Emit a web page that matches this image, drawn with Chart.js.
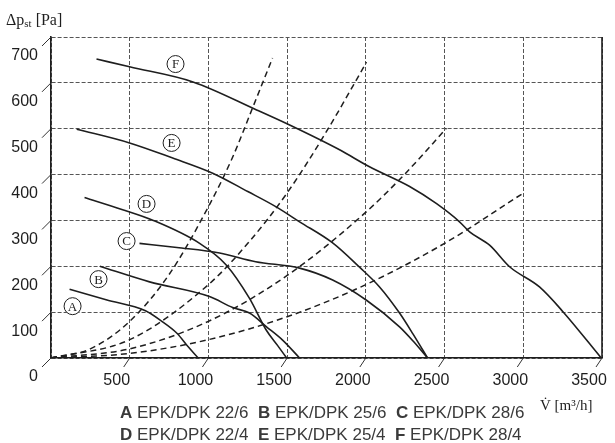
<!DOCTYPE html>
<html>
<head>
<meta charset="utf-8">
<script src="https://cdn.jsdelivr.net/npm/chart.js@4/dist/chart.umd.min.js"></script>
<style>
  body { margin: 0; background: #fff; }
  canvas { display: block; }
</style>
</head>
<body>
<canvas id="fan-chart" width="615" height="443"></canvas>
<script>
"use strict";

// fan curves, flow in m3/h and static pressure in Pa
let curveAFlow = [118, 350, 600, 700, 800, 870, 935];
let curveAPress = [150, 127, 103, 81, 54, 25, 0];
let curveBFlow = [310, 626, 1007, 1154, 1261, 1369, 1471, 1579];
let curveBPress = [200, 166, 134, 110, 98, 68, 39, 0];
let curveCFlow = [562, 800, 1071, 1300, 1579, 1789, 2004, 2214, 2300, 2392];
let curveCPress = [250, 241, 229, 210, 196, 170, 126, 68, 37, 0];
let curveDFlow = [213, 450, 650, 944, 1113, 1261, 1367, 1440, 1497];
let curveDPress = [350, 324, 300, 250, 203, 130, 61, 27, 0];
let curveEFlow = [163, 499, 773, 1027, 1250, 1433, 1579, 1789, 1960, 2087, 2214, 2300, 2392];
let curveEPress = [499, 469, 436, 403, 363, 329, 297, 251, 198, 155, 98, 52, 0];
let curveFFlow = [289, 499, 902, 1306, 1516, 1833, 2023, 2278, 2447, 2595, 2659, 2786, 2913, 3103, 3252, 3495];
let curveFPress = [652, 635, 602, 541, 508, 454, 417, 374, 337, 297, 275, 246, 199, 155, 101, 0];

// system curves (dashed)
let sys1Flow = [0, 250, 500, 750, 1000, 1150, 1280, 1407];
let sys1Press = [0, 20, 80, 182, 330, 435, 545, 654];
let sys2Flow = [0, 500, 1000, 1250, 1500, 1750, 2004];
let sys2Press = [0, 40, 160, 250, 360, 494, 645];
let sys3Flow = [0, 500, 1000, 1500, 2000, 2250, 2512];
let sys3Press = [0, 20, 80, 180, 318, 402, 501];
let sys4Flow = [0, 500, 1000, 1500, 2000, 2500, 3002];
let sys4Press = [0, 10, 40, 90, 160, 250, 360];

// circled letters on the curves
let markLetters = ["A", "B", "C", "D", "E", "F"];
let markFlow = [137, 302, 480, 607, 766, 791];
let markPress = [113, 172, 255, 336, 469, 641];

let xTicks = [0, 500, 1000, 1500, 2000, 2500, 3000, 3500];
let yTicks = [0, 100, 200, 300, 400, 500, 600, 700];

let legendRow1 = [["A", "EPK/DPK 22/6"], ["B", "EPK/DPK 25/6"], ["C", "EPK/DPK 28/6"]];
let legendRow2 = [["D", "EPK/DPK 22/4"], ["E", "EPK/DPK 25/4"], ["F", "EPK/DPK 28/4"]];

let ink = "#1e1e1e";

function toPoints(flow, press) {
  let pts = [];
  for (let i = 0; i < flow.length; i++) {
    pts.push({ x: flow[i], y: press[i] });
  }
  return pts;
}

function fanSet(flow, press) {
  return {
    data: toPoints(flow, press),
    showLine: true,
    borderColor: ink,
    borderWidth: 1.6,
    pointRadius: 0,
    cubicInterpolationMode: "monotone",
  };
}

function sysSet(flow, press) {
  let set = fanSet(flow, press);
  set.borderDash = [6, 4];
  set.borderWidth = 1.5;
  return set;
}

function drawLegendRow(ctx, row, x, y) {
  for (let item of row) {
    ctx.font = "bold 17px 'Liberation Sans', Arial, sans-serif";
    ctx.fillText(item[0], x, y);
    x += ctx.measureText(item[0] + " ").width;
    ctx.font = "17px 'Liberation Sans', Arial, sans-serif";
    ctx.fillText(item[1], x, y);
    x += ctx.measureText(item[1] + "  ").width;
  }
}

let extrasPlugin = {
  id: "extras",
  afterDraw(chart) {
    let ctx = chart.ctx;
    let xs = chart.scales.x;
    let ys = chart.scales.y;
    let area = chart.chartArea;
    ctx.save();

    // slanted ticks between labels and grid
    ctx.strokeStyle = "#333";
    ctx.lineWidth = 1;
    for (let v of yTicks) {
      let py = ys.getPixelForValue(v);
      ctx.beginPath();
      ctx.moveTo(area.left - 9, py + 9);
      ctx.lineTo(area.left, py);
      ctx.stroke();
    }
    for (let v of xTicks) {
      if (v === 0) continue;
      let px = xs.getPixelForValue(v);
      ctx.beginPath();
      ctx.moveTo(px - 6, area.bottom + 9);
      ctx.lineTo(px, area.bottom);
      ctx.stroke();
    }

    // solid right frame
    ctx.strokeStyle = ink;
    ctx.lineWidth = 1.6;
    ctx.beginPath();
    ctx.moveTo(area.right, area.top);
    ctx.lineTo(area.right, area.bottom);
    ctx.stroke();

    // circled letters
    ctx.lineWidth = 1;
    ctx.textAlign = "center";
    ctx.textBaseline = "middle";
    ctx.font = "13px 'Liberation Serif', serif";
    for (let i = 0; i < markLetters.length; i++) {
      let cx = xs.getPixelForValue(markFlow[i]);
      let cy = ys.getPixelForValue(markPress[i]);
      ctx.fillStyle = "#fff";
      ctx.beginPath();
      ctx.arc(cx, cy, 8.5, 0, Math.PI * 2);
      ctx.fill();
      ctx.stroke();
      ctx.fillStyle = ink;
      ctx.fillText(markLetters[i], cx, cy + 1);
    }

    // axis titles
    ctx.textAlign = "left";
    ctx.textBaseline = "alphabetic";
    ctx.fillStyle = ink;
    ctx.font = "16px 'Liberation Serif', serif";
    ctx.fillText("\u0394p", 6, 25);
    let w = ctx.measureText("\u0394p").width;
    ctx.font = "11px 'Liberation Serif', serif";
    ctx.fillText("st", 6 + w, 27);
    let w2 = ctx.measureText("st").width;
    ctx.font = "16px 'Liberation Serif', serif";
    ctx.fillText(" [Pa]", 6 + w + w2, 25);

    ctx.font = "15px 'Liberation Serif', serif";
    ctx.fillText("V\u0307 [m\u00b3/h]", 540, 410);

    // legend rows
    ctx.fillStyle = "#3a3a3a";
    drawLegendRow(ctx, legendRow1, 120, 418);
    drawLegendRow(ctx, legendRow2, 120, 440);
    ctx.restore();
  },
};

let tickFont = { family: "'Liberation Sans', Arial, sans-serif", size: 16 };

let ctx = document.getElementById("fan-chart");
let chart = new Chart(ctx, {
  type: "scatter",
  data: {
    datasets: [
      fanSet(curveAFlow, curveAPress),
      fanSet(curveBFlow, curveBPress),
      fanSet(curveCFlow, curveCPress),
      fanSet(curveDFlow, curveDPress),
      fanSet(curveEFlow, curveEPress),
      fanSet(curveFFlow, curveFPress),
      sysSet(sys1Flow, sys1Press),
      sysSet(sys2Flow, sys2Press),
      sysSet(sys3Flow, sys3Press),
      sysSet(sys4Flow, sys4Press),
    ],
  },
  options: {
    responsive: false,
    animation: false,
    events: [],
    layout: { padding: { top: 37, right: 13, left: 0, bottom: 0 } },
    plugins: { legend: { display: false }, tooltip: { enabled: false } },
    scales: {
      x: {
        type: "linear",
        min: 0,
        max: 3500,
        afterBuildTicks(scale) {
          scale.ticks = xTicks.map((v) => ({ value: v }));
        },
        afterFit(scale) {
          scale.height = 85;
          scale.paddingLeft = 0;
          scale.paddingRight = 0;
        },
        ticks: {
          font: tickFont,
          color: ink,
          padding: 13,
          labelOffset: -13,
          maxRotation: 0,
          callback: (v) => (v === 0 ? "" : String(v)),
        },
        grid: { color: "#555", lineWidth: 1, drawTicks: false },
        border: { color: ink, width: 1.6, dash: [4, 2] },
      },
      y: {
        min: 0,
        max: 700,
        afterBuildTicks(scale) {
          scale.ticks = yTicks.map((v) => ({ value: v }));
        },
        afterFit(scale) {
          scale.width = 51;
          scale.paddingTop = 0;
          scale.paddingBottom = 0;
        },
        ticks: {
          font: tickFont,
          color: ink,
          padding: 13,
          labelOffset: 19,
        },
        grid: { color: "#555", lineWidth: 1, drawTicks: false },
        border: { color: ink, width: 1.6, dash: [4, 2] },
      },
    },
  },
  plugins: [extrasPlugin],
});
</script>
</body>
</html>
